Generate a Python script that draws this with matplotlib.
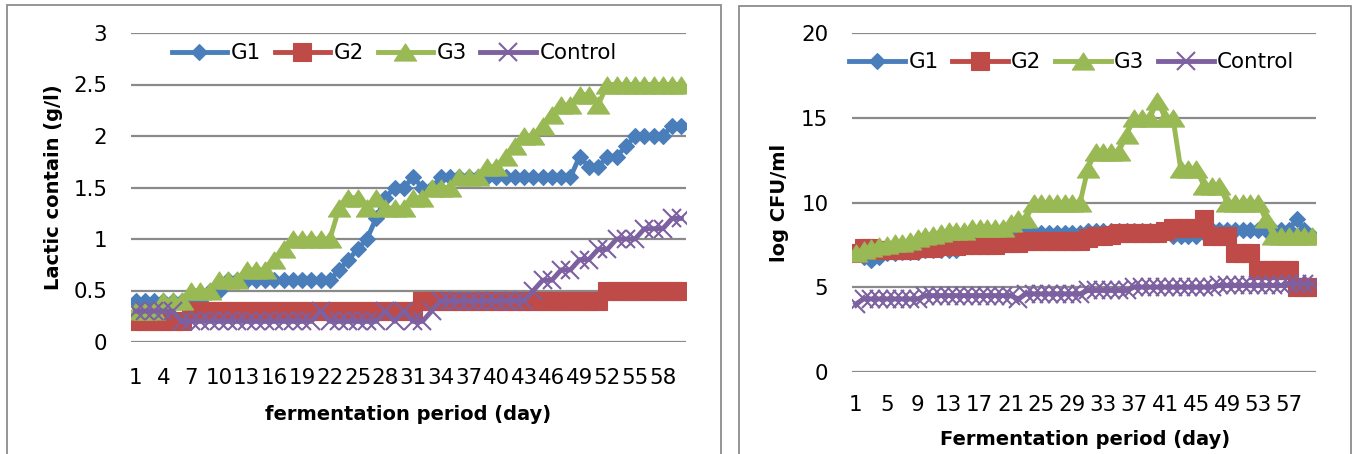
import matplotlib

matplotlib.use("Agg")
import matplotlib.pyplot as plt
from matplotlib.patches import Rectangle

# ---- data (60 daily points each) ----
days = list(range(1, 61))

lactic_g1 = [0.4, 0.4, 0.4, 0.4, 0.4, 0.4, 0.4, 0.4, 0.5, 0.5,
             0.6, 0.6, 0.6, 0.6, 0.6, 0.6, 0.6, 0.6, 0.6, 0.6,
             0.6, 0.6, 0.7, 0.8, 0.9, 1.0, 1.2, 1.4, 1.5, 1.5,
             1.6, 1.5, 1.5, 1.6, 1.6, 1.6, 1.6, 1.6, 1.6, 1.6,
             1.6, 1.6, 1.6, 1.6, 1.6, 1.6, 1.6, 1.6, 1.8, 1.7,
             1.7, 1.8, 1.8, 1.9, 2.0, 2.0, 2.0, 2.0, 2.1, 2.1]
lactic_g2 = [0.2, 0.2, 0.2, 0.2, 0.2, 0.2, 0.3, 0.3, 0.3, 0.3,
             0.3, 0.3, 0.3, 0.3, 0.3, 0.3, 0.3, 0.3, 0.3, 0.3,
             0.3, 0.3, 0.3, 0.3, 0.3, 0.3, 0.3, 0.3, 0.3, 0.3,
             0.3, 0.4, 0.4, 0.4, 0.4, 0.4, 0.4, 0.4, 0.4, 0.4,
             0.4, 0.4, 0.4, 0.4, 0.4, 0.4, 0.4, 0.4, 0.4, 0.4,
             0.4, 0.5, 0.5, 0.5, 0.5, 0.5, 0.5, 0.5, 0.5, 0.5]
lactic_g3 = [0.3, 0.3, 0.3, 0.4, 0.4, 0.4, 0.5, 0.5, 0.5, 0.6,
             0.6, 0.6, 0.7, 0.7, 0.7, 0.8, 0.9, 1.0, 1.0, 1.0,
             1.0, 1.0, 1.3, 1.4, 1.4, 1.3, 1.4, 1.3, 1.3, 1.3,
             1.4, 1.4, 1.5, 1.5, 1.5, 1.6, 1.6, 1.6, 1.7, 1.7,
             1.8, 1.9, 2.0, 2.0, 2.1, 2.2, 2.3, 2.3, 2.4, 2.4,
             2.3, 2.5, 2.5, 2.5, 2.5, 2.5, 2.5, 2.5, 2.5, 2.5]
lactic_ctrl = [0.3, 0.3, 0.3, 0.3, 0.3, 0.2, 0.2, 0.2, 0.2, 0.2,
               0.2, 0.2, 0.2, 0.2, 0.2, 0.2, 0.2, 0.2, 0.2, 0.2,
               0.3, 0.2, 0.2, 0.2, 0.2, 0.2, 0.2, 0.3, 0.2, 0.3,
               0.2, 0.2, 0.3, 0.4, 0.4, 0.4, 0.4, 0.4, 0.4, 0.4,
               0.4, 0.4, 0.4, 0.5, 0.6, 0.6, 0.7, 0.7, 0.8, 0.8,
               0.9, 0.9, 1.0, 1.0, 1.0, 1.1, 1.1, 1.1, 1.2, 1.2]

cfu_g1 = [7.0, 6.8, 6.6, 6.8, 7.0, 7.0, 7.1, 7.1, 7.1, 7.2,
          7.2, 7.2, 7.2, 7.2, 7.4, 7.5, 7.6, 7.7, 7.8, 7.9,
          8.0, 8.2, 8.2, 8.2, 8.2, 8.2, 8.2, 8.2, 8.2, 8.2,
          8.3, 8.3, 8.3, 8.3, 8.3, 8.3, 8.3, 8.3, 8.3, 8.3,
          8.3, 8.0, 8.0, 8.0, 8.0, 8.2, 8.4, 8.4, 8.4, 8.4,
          8.4, 8.4, 8.4, 8.4, 8.4, 8.4, 8.4, 9.0, 8.4, 8.0]
cfu_g2 = [7.0, 7.3, 7.3, 7.2, 7.2, 7.2, 7.2, 7.2, 7.3, 7.3,
          7.3, 7.4, 7.4, 7.4, 7.5, 7.5, 7.5, 7.5, 7.5, 7.6,
          7.6, 7.6, 7.7, 7.7, 7.7, 7.7, 7.7, 7.7, 7.7, 7.7,
          7.9, 8.0, 8.0, 8.1, 8.2, 8.2, 8.2, 8.2, 8.2, 8.2,
          8.3, 8.5, 8.5, 8.5, 8.5, 9.0, 8.0, 8.0, 8.0, 7.0,
          7.0, 7.0, 6.0, 6.0, 6.0, 6.0, 6.0, 5.0, 5.0, 5.0]
cfu_g3 = [7.0, 7.2, 7.3, 7.4, 7.5, 7.6, 7.6, 7.7, 7.9, 8.0,
          8.1, 8.2, 8.3, 8.3, 8.3, 8.5, 8.5, 8.5, 8.5, 8.5,
          8.8, 9.0, 9.0, 10, 10, 10, 10, 10, 10, 10,
          12, 13, 13, 13, 13, 14, 15, 15, 15, 16,
          15, 15, 12, 12, 12, 11, 11, 11, 10, 10,
          10, 10, 10, 9, 8, 8, 8, 8, 8, 8]
cfu_ctrl = [4.0, 4.3, 4.3, 4.3, 4.3, 4.3, 4.3, 4.3, 4.3, 4.5,
            4.5, 4.5, 4.5, 4.5, 4.5, 4.5, 4.5, 4.5, 4.5, 4.5,
            4.5, 4.3, 4.6, 4.6, 4.6, 4.6, 4.6, 4.6, 4.6, 4.6,
            4.8, 4.8, 4.8, 4.8, 4.8, 4.8, 5.0, 5.0, 5.0, 5.0,
            5.0, 5.0, 5.0, 5.0, 5.0, 5.0, 5.0, 5.1, 5.1, 5.1,
            5.1, 5.1, 5.1, 5.1, 5.1, 5.1, 5.2, 5.2, 5.2, 5.2]

series_names = ["G1", "G2", "G3", "Control"]
left_ticks = [1, 4, 7, 10, 13, 16, 19, 22, 25, 28, 31, 34, 37, 40, 43, 46, 49, 52, 55, 58]
right_ticks = [1, 5, 9, 13, 17, 21, 25, 29, 33, 37, 41, 45, 49, 53, 57]

# Excel's triangle marker is wider than it is tall
WIDE_TRIANGLE = [(-1.3, -1.0), (1.3, -1.0), (0.0, 1.0), (-1.3, -1.0)]

# Excel 2007 default palette / marker set
STYLES = [
    dict(color="#4a7ebb", marker="D", ms=8.3),
    dict(color="#be4b48", marker="s", ms=12.5),
    dict(color="#98b954", marker=WIDE_TRIANGLE, ms=16),
    dict(color="#7d60a0", marker="x", ms=12.5, mew=1.5),
]

W, H = 1353, 454
plt.rcParams["font.family"] = "DejaVu Sans"
plt.rcParams["font.size"] = 15.4


def draw_panel(ax, series, ticks, ylim, yticks, ylabels, xlabel, ylabel):
    for values, name, st in zip(series, series_names, STYLES):
        ax.plot(days, values, label=name, lw=3.5, color=st["color"],
                marker=st["marker"], ms=st["ms"], mec=st["color"],
                mfc=st["color"], mew=st.get("mew", 0.8))
    ax.set_xlim(0.5, 60.5)
    ax.set_ylim(*ylim)
    ax.set_yticks(yticks)
    ax.set_yticklabels(ylabels)
    ax.set_xticks(ticks)
    ax.set_xticklabels([str(t) for t in ticks])
    ax.yaxis.grid(True, color="#8a8a8a", lw=1.6)
    ax.set_axisbelow(True)
    for sp in ax.spines.values():
        sp.set_visible(False)
    ax.tick_params(axis="both", length=0)
    ax.tick_params(axis="y", pad=17)
    ax.set_xlabel(xlabel, fontsize=14, fontweight="bold")
    ax.set_ylabel(ylabel, fontsize=14, fontweight="bold")


fig = plt.figure(figsize=(W / 100, H / 100), dpi=100)

# panel frames (bottom edge runs off the picture)
fig.add_artist(Rectangle((7 / W, -0.05), 714 / W, 1.05 - 5 / H, transform=fig.transFigure,
                         fill=False, edgecolor="#8c8c8c", lw=1.3))
fig.add_artist(Rectangle((739 / W, -0.05), 612 / W, 1.05 - 6 / H, transform=fig.transFigure,
                         fill=False, edgecolor="#8c8c8c", lw=1.3))

ax1 = fig.add_axes([131 / W, 1 - 342 / H, 555 / W, 309 / H])
draw_panel(ax1, [lactic_g1, lactic_g2, lactic_g3, lactic_ctrl], left_ticks,
           (0, 3), [0, 0.5, 1, 1.5, 2, 2.5, 3], ["0", "0.5", "1", "1.5", "2", "2.5", "3"],
           "fermentation period (day)", "Lactic contain (g/l)")
ax1.tick_params(axis="x", pad=19)
ax1.xaxis.set_label_coords(0.5, -0.205)
ax1.yaxis.set_label_coords(-0.123, 0.5)
ax1.legend(ncol=4, loc="center", bbox_to_anchor=(0.474, 0.935), frameon=False,
           handlelength=2.6, handletextpad=0.15, columnspacing=0.65, borderpad=0)

ax2 = fig.add_axes([852 / W, 1 - 371.7 / H, 464 / W, 338.4 / H])
draw_panel(ax2, [cfu_g1, cfu_g2, cfu_g3, cfu_ctrl], right_ticks,
           (0, 20), [0, 5, 10, 15, 20], ["0", "5", "10", "15", "20"],
           "Fermentation period (day)", "log CFU/ml")
ax2.tick_params(axis="x", pad=17)
ax2.xaxis.set_label_coords(0.502, -0.172)
ax2.yaxis.set_label_coords(-0.135, 0.5)
ax2.legend(ncol=4, loc="center", bbox_to_anchor=(0.474, 0.915), frameon=False,
           handlelength=2.6, handletextpad=0.15, columnspacing=0.65, borderpad=0)

fig.savefig("out.png", dpi=100)
